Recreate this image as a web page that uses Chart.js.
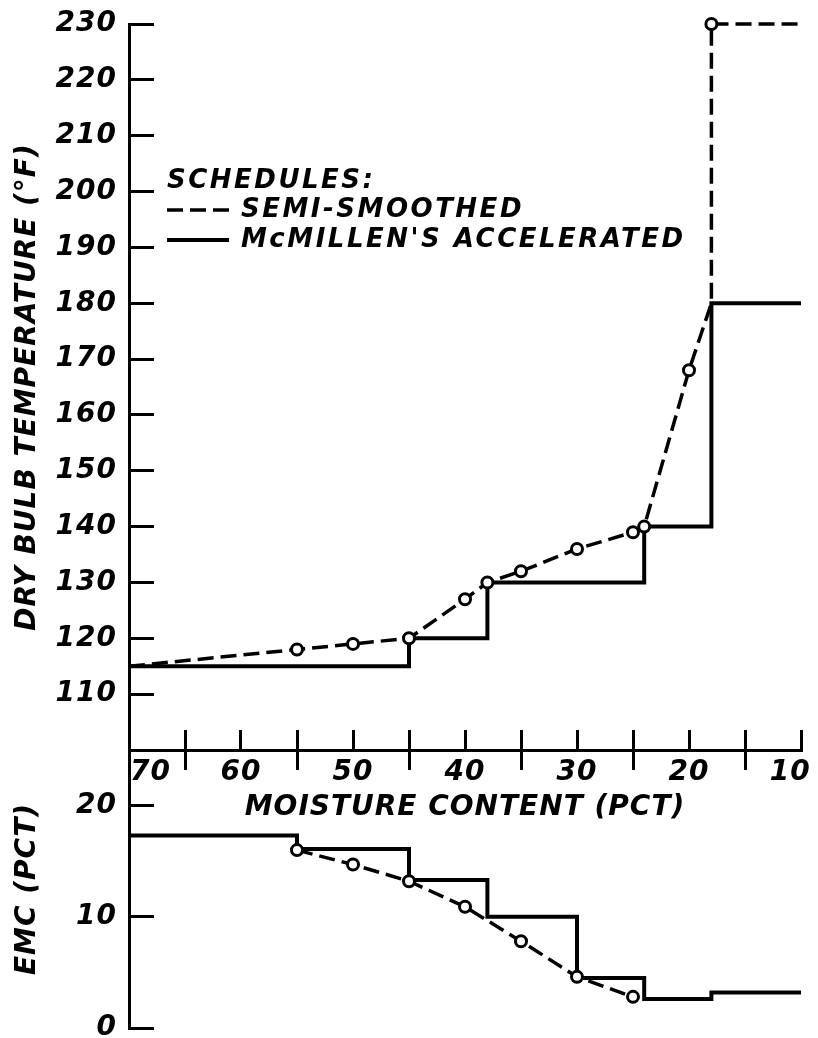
<!DOCTYPE html>
<html>
<head>
<meta charset="utf-8">
<title>Drying schedules</title>
<script src="https://cdn.jsdelivr.net/npm/chart.js@4.4.1/dist/chart.umd.min.js"></script>
<style>
  html, body { margin: 0; padding: 0; background: #fff; }
  #wrap { position: relative; width: 818px; height: 1038px; }
</style>
</head>
<body>
<div id="wrap"><canvas id="grafico"></canvas></div>
<script>
// Eixos
const moistureTicks = [70, 60, 50, 40, 30, 20, 10];
const moistureMinorTicks = [65, 55, 45, 35, 25, 15];
const tempTicks = [110, 120, 130, 140, 150, 160, 170, 180, 190, 200, 210, 220, 230];
const emcTicks = [0, 10, 20];

// Temperatura de bulbo seco - programa semi-suavizado
const smoothedMoisture = [70, 55, 50, 45, 40, 38, 35, 30, 25, 24, 20, 18, 18, 10];
const smoothedTemp = [115, 118, 119, 120, 127, 130, 132, 136, 139, 140, 168, 180, 230, 230];
const smoothedCircled = [0, 1, 1, 1, 1, 1, 1, 1, 1, 1, 1, 0, 1, 0];

// Temperatura - programa acelerado de McMillen (degraus)
const mcmillenMoisture = [70, 45, 38, 24, 18, 10];
const mcmillenTemp = [115, 120, 130, 140, 180, 180];

// EMC
const smoothedEmcMoisture = [55, 50, 45, 40, 35, 30, 25];
const smoothedEmc = [16.0, 14.7, 13.2, 10.9, 7.8, 4.6, 2.8];
const mcmillenEmcMoisture = [70, 55, 45, 38, 30, 24, 18, 10];
const mcmillenEmc = [17.3, 16.1, 13.3, 10.0, 4.5, 2.6, 3.2, 3.2];

const pts = (xs, ys) => xs.map((x, i) => ({ x: x, y: ys[i] }));

const lettering = { family: "'DejaVu Sans', sans-serif", style: 'italic', weight: 'bold', size: 28, lineHeight: 1 };
const ink = '#000';

// espaçamento entre letras, como no letreiro original
const letterSpacing = {
    id: 'letterSpacing',
    beforeLayout(chart) { chart.ctx.letterSpacing = '1px'; },
    beforeDraw(chart) { chart.ctx.letterSpacing = '1px'; }
};

// legenda "SCHEDULES:" dentro da área do gráfico
const schedulesLegend = {
    id: 'schedulesLegend',
    afterDatasetsDraw(chart, args, opts) {
        const ctx = chart.ctx;
        ctx.save();
        ctx.letterSpacing = '2.5px';
        ctx.fillStyle = ink;
        ctx.font = 'italic bold 26px "DejaVu Sans"';
        ctx.textBaseline = 'middle';
        ctx.fillText(opts.title, opts.x, opts.y);
        chart.data.datasets.filter(ds => ds.showInLegend).forEach((ds, i) => {
            const y = opts.y + (i + 1) * opts.rowHeight + (i ? 1 : 0);
            ctx.strokeStyle = ds.borderColor;
            ctx.lineWidth = ds.borderWidth;
            ctx.setLineDash(ds.borderDash || []);
            ctx.beginPath();
            ctx.moveTo(opts.x, y);
            ctx.lineTo(opts.x + opts.sampleWidth, y);
            ctx.stroke();
            ctx.setLineDash([]);
            ctx.fillText(ds.label, opts.x + opts.sampleWidth + 12, y);
        });
        ctx.restore();
    }
};

const fixLeftAxis = s => { s.width = 118; s.paddingTop = 0; s.paddingBottom = 0; };
const fixXAxis = s => { s.paddingLeft = 0; s.paddingRight = 0; };

const dashed = { borderColor: ink, borderWidth: 3.5, borderDash: [16, 7], pointBackgroundColor: '#fff', pointBorderColor: ink, pointBorderWidth: 3, tension: 0, fill: false, clip: 10 };
const solid = { borderColor: ink, borderWidth: 4, pointRadius: 0, stepped: 'before', fill: false };

new Chart(document.getElementById('grafico'), {
    type: 'line',
    data: {
        datasets: [
            Object.assign({ label: 'SEMI-SMOOTHED', showInLegend: true, data: pts(smoothedMoisture, smoothedTemp), xAxisID: 'x', yAxisID: 'y',
                pointRadius: c => smoothedCircled[c.dataIndex] ? 5.5 : 0 }, dashed),
            Object.assign({ label: "McMILLEN'S ACCELERATED", showInLegend: true, data: pts(mcmillenMoisture, mcmillenTemp), xAxisID: 'x', yAxisID: 'y' }, solid),
            Object.assign({ label: 'SEMI-SMOOTHED', data: pts(smoothedEmcMoisture, smoothedEmc), xAxisID: 'x', yAxisID: 'emc', pointRadius: 5.5 }, dashed),
            Object.assign({ label: "McMILLEN'S ACCELERATED", data: pts(mcmillenEmcMoisture, mcmillenEmc), xAxisID: 'x', yAxisID: 'emc' }, solid)
        ]
    },
    options: {
        responsive: true,
        maintainAspectRatio: false,
        animation: false,
        events: [],
        layout: { padding: { left: 11, top: 24, right: 17, bottom: 10 } },
        plugins: {
            legend: { display: false },
            tooltip: { enabled: false },
            schedulesLegend: { title: 'SCHEDULES:', x: 167, y: 181, rowHeight: 29, sampleWidth: 62 }
        },
        scales: {
            y: {
                type: 'linear', axis: 'y', position: 'left', stack: 'left', stackWeight: 726, weight: 2,
                min: 100, max: 230,
                afterBuildTicks: s => { s.ticks = tempTicks.map(v => ({ value: v })); },
                afterFit: fixLeftAxis,
                border: { display: true, color: ink, width: 3 },
                grid: { drawOnChartArea: false, tickLength: -25, tickWidth: 3, tickColor: ink },
                ticks: { color: ink, font: lettering, padding: 37, autoSkip: false },
                title: { display: true, text: 'DRY BULB TEMPERATURE (°F)', color: ink, font: lettering, padding: { top: 3, bottom: 0 } }
            },
            emc: {
                type: 'linear', axis: 'y', position: 'left', stack: 'left', stackWeight: 278, weight: 1,
                min: 0, max: 25,
                afterBuildTicks: s => { s.ticks = emcTicks.map(v => ({ value: v })); },
                afterFit: fixLeftAxis,
                border: { display: true, color: ink, width: 3 },
                grid: { drawOnChartArea: false, tickLength: -25, tickWidth: 3, tickColor: ink },
                ticks: { color: ink, font: lettering, padding: 37, autoSkip: false },
                title: { display: true, text: 'EMC (PCT)', color: ink, font: lettering, padding: { top: 3, bottom: 0 } }
            },
            x: {
                type: 'linear', axis: 'x', position: { y: 100 },
                min: 10, max: 70, reverse: true,
                afterBuildTicks: s => {
                    s.ticks = moistureTicks.concat(moistureMinorTicks).sort((a, b) => a - b).map(v => ({ value: v }));
                },
                afterFit: fixXAxis,
                border: { display: true, color: ink, width: 3 },
                grid: { drawOnChartArea: false, tickLength: -22, tickWidth: 3, tickColor: ink },
                ticks: {
                    color: ink, font: lettering, padding: 31, autoSkip: false, maxRotation: 0,
                    callback: v => {
                        if (!moistureTicks.includes(v)) return '';
                        if (v === 70) return '    70';
                        if (v === 10) return '10  ';
                        return String(v);
                    }
                },
                title: { display: true, text: 'MOISTURE CONTENT (PCT)', color: ink, font: lettering, padding: { top: -24, bottom: 0 } }
            },
            xMinor: {
                type: 'linear', axis: 'x', position: { y: 100 },
                min: 10, max: 70, reverse: true,
                afterBuildTicks: s => { s.ticks = moistureMinorTicks.map(v => ({ value: v })); },
                afterFit: fixXAxis,
                border: { display: false },
                grid: { drawOnChartArea: false, tickLength: 20, tickWidth: 3, tickColor: ink },
                ticks: { display: false }
            }
        }
    },
    plugins: [letterSpacing, schedulesLegend]
});
</script>
</body>
</html>
